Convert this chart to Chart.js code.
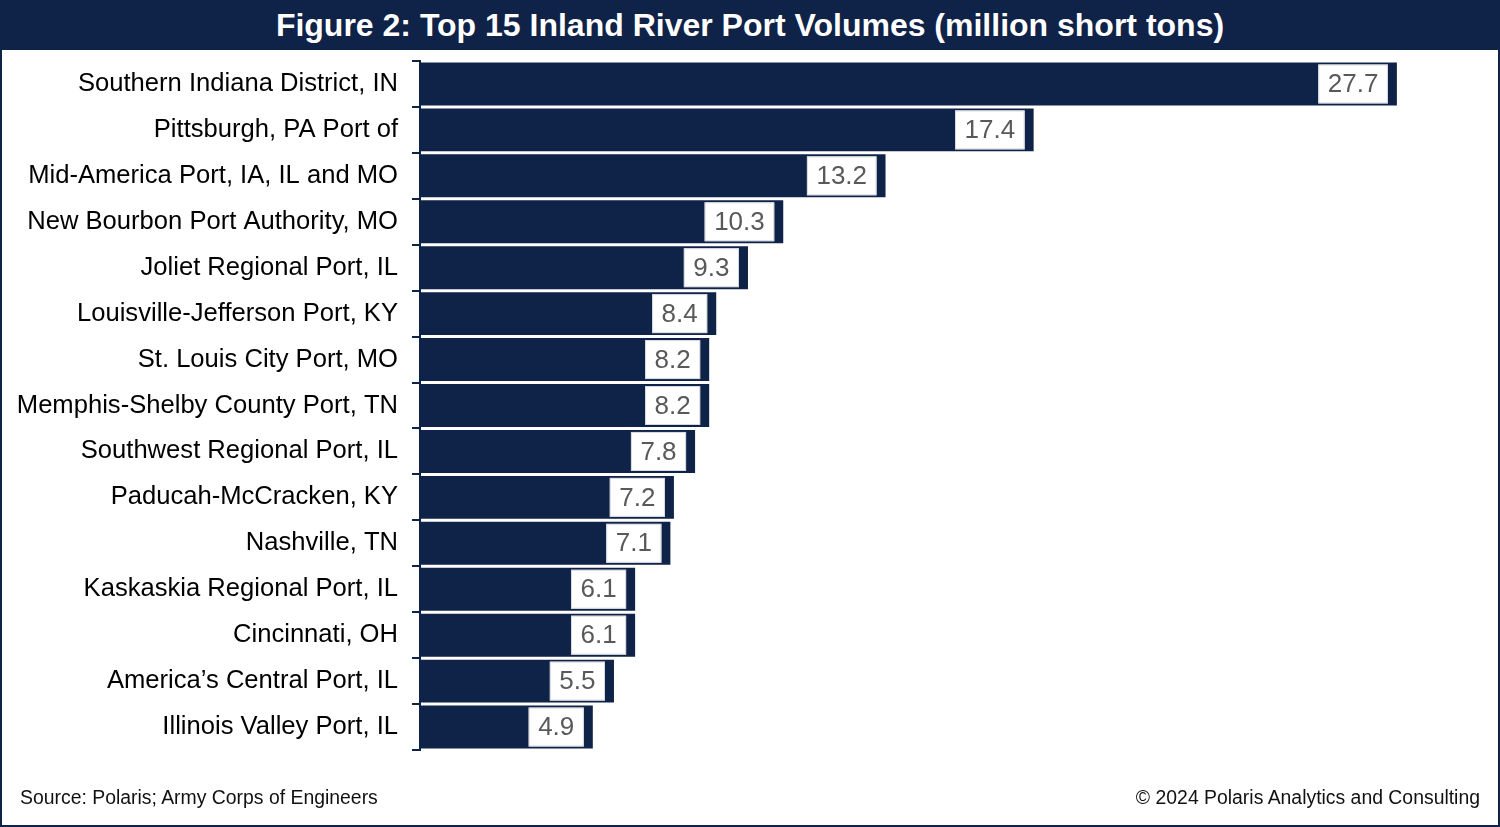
<!DOCTYPE html>
<html>
<head>
<meta charset="utf-8">
<script src="https://cdn.jsdelivr.net/npm/chart.js@4.4.1/dist/chart.umd.min.js"></script>
<style>
  html, body { margin: 0; padding: 0; background: #fff; }
  #frame {
    position: relative; width: 1500px; height: 827px; box-sizing: border-box;
    border: 2px solid #0f2247; overflow: hidden; font-family: "Liberation Sans", Arial, sans-serif;
  }
  #title {
    position: absolute; left: 0; top: 0; width: 100%; height: 48px; background: #0f2247;
    color: #fff; font-weight: bold; font-size: 32px; text-align: center; line-height: 46px;
  }
  #chartBox { position: absolute; left: -2px; top: -2px; width: 1500px; height: 827px; }
  .foot { position: absolute; top: 784px; font-size: 19.4px; color: #111; }
  #src { left: 18px; }
  #copy { right: 18px; }
</style>
</head>
<body>
<div id="frame">
  <div id="chartBox"><canvas id="portChart"></canvas></div>
  <div id="title">Figure 2: Top 15 Inland River Port Volumes (million short tons)</div>
  <div class="foot" id="src">Source: Polaris; Army Corps of Engineers</div>
  <div class="foot" id="copy">&copy; 2024 Polaris Analytics and Consulting</div>
</div>
<script>
const ports = [
  "Southern Indiana District, IN",
  "Pittsburgh, PA Port of",
  "Mid-America Port, IA, IL and MO",
  "New Bourbon Port Authority, MO",
  "Joliet Regional Port, IL",
  "Louisville-Jefferson Port, KY",
  "St. Louis City Port, MO",
  "Memphis-Shelby County Port, TN",
  "Southwest Regional Port, IL",
  "Paducah-McCracken, KY",
  "Nashville, TN",
  "Kaskaskia Regional Port, IL",
  "Cincinnati, OH",
  "America\u2019s Central Port, IL",
  "Illinois Valley Port, IL"
];
const volumes = [27.7, 17.4, 13.2, 10.3, 9.3, 8.4, 8.2, 8.2, 7.8, 7.2, 7.1, 6.1, 6.1, 5.5, 4.9];

const NAVY = "#0f2247";

// white value boxes inside the end of each bar
const valueBoxes = {
  id: "valueBoxes",
  afterDatasetsDraw(chart) {
    const ctx = chart.ctx;
    const meta = chart.getDatasetMeta(0);
    ctx.save();
    ctx.font = "26px 'Liberation Sans', Arial, sans-serif";
    ctx.textBaseline = "middle";
    ctx.textAlign = "center";
    meta.data.forEach((bar, i) => {
      const txt = volumes[i].toFixed(1);
      const w = ctx.measureText(txt).width + 19;
      const h = bar.height - 4;
      const right = bar.x - 9;
      const left = right - w;
      const top = bar.y - h / 2;
      ctx.fillStyle = "#ffffff";
      ctx.fillRect(left, top, w, h);
      ctx.strokeStyle = "#d5d8df";
      ctx.lineWidth = 1;
      ctx.strokeRect(left + 0.5, top + 0.5, w - 1, h - 1);
      ctx.fillStyle = "#595959";
      ctx.fillText(txt, left + w / 2, bar.y + 1);
    });
    ctx.restore();
  }
};

new Chart(document.getElementById("portChart"), {
  type: "bar",
  data: {
    labels: ports,
    datasets: [{
      data: volumes,
      backgroundColor: NAVY,
      borderWidth: 0,
      categoryPercentage: 1,
      barPercentage: 0.935
    }]
  },
  options: {
    indexAxis: "y",
    responsive: true,
    maintainAspectRatio: false,
    animation: false,
    layout: { padding: { top: 61, bottom: 77, left: 0, right: 22 } },
    plugins: {
      legend: { display: false },
      tooltip: { enabled: false }
    },
    scales: {
      x: {
        display: false,
        min: 0,
        max: 30
      },
      y: {
        afterFit: (scale) => { scale.width = 420; },
        border: { display: true, color: NAVY, width: 2 },
        grid: {
          offset: true,
          drawOnChartArea: false,
          drawTicks: true,
          tickLength: 8,
          color: NAVY,
          lineWidth: 2
        },
        ticks: {
          color: "#000",
          padding: 14,
          font: { family: "'Liberation Sans', Arial, sans-serif", size: 25.6 }
        }
      }
    }
  },
  plugins: [valueBoxes]
});
</script>
</body>
</html>
